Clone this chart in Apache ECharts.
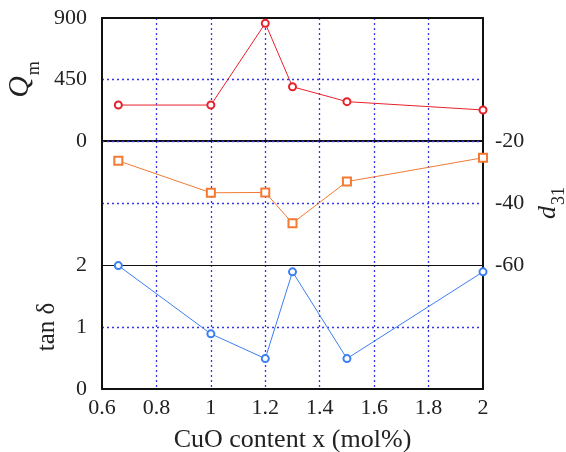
<!DOCTYPE html>
<html>
<head>
<meta charset="utf-8">
<script src="https://cdn.jsdelivr.net/npm/echarts@6/dist/echarts.min.js"></script>
<style>
  html, body { margin: 0; padding: 0; background: #fff; }
  #chart { width: 566px; height: 452px; }
</style>
</head>
<body>
<div id="chart"></div>
<script>
// CuO content (mol%)
const cuo = [0.66, 1.0, 1.2, 1.3, 1.5, 2.0];
const qm = [263, 263, 861, 397, 288, 227];
const d31 = [-26.4, -36.7, -36.6, -46.5, -33.1, -25.4];
const tanDelta = [1.99, 0.89, 0.49, 1.89, 0.49, 1.89];

const FONT = "Liberation Serif";
const black = "#111";
const dotted = () => ({ color: "#3535ea", width: 1.3, type: [2, 3] });

const chart = echarts.init(document.getElementById("chart"));

const pair = (xs, ys) => xs.map((x, i) => [x, ys[i]]);

function xAxis(gridIndex, position, opts) {
  return Object.assign({
    type: "value",
    gridIndex,
    position,
    min: 0.6,
    max: 2,
    interval: 0.2,
    axisLine: { onZero: false, lineStyle: { color: black, width: 2 } },
    axisTick: { show: false },
    axisLabel: { show: false },
    splitLine: { show: true, showMinLine: false, showMaxLine: false, lineStyle: dotted() }
  }, opts);
}

function yAxis(gridIndex, position, min, max, interval, opts) {
  return Object.assign({
    type: "value",
    gridIndex,
    position,
    min,
    max,
    interval,
    z: 4,
    axisLine: { show: true, onZero: false, lineStyle: { color: black, width: 2 } },
    axisTick: { show: false },
    axisLabel: { show: false },
    splitLine: { show: false }
  }, opts);
}

const labelStyle = (margin) => ({
  show: true,
  color: "#222",
  fontFamily: FONT,
  fontSize: 22,
  margin
});

const gridBox = { left: 102, right: 83, outerBoundsMode: "none", containLabel: false };

chart.setOption({
  animation: false,
  grid: [
    Object.assign({ top: 18, height: 123 }, gridBox),
    Object.assign({ top: 141, height: 124 }, gridBox),
    Object.assign({ top: 265, height: 124 }, gridBox)
  ],
  xAxis: [
    xAxis(0, "top", { z: 5 }),
    xAxis(1, "top", { z: 1 }),
    xAxis(1, "bottom", { z: 6, splitLine: { show: false }, axisLine: { onZero: false, lineStyle: { color: black, width: 1 } } }),
    xAxis(2, "bottom", {
      z: 6,
      axisLabel: labelStyle(8),
      name: "CuO content x (mol%)",
      nameLocation: "middle",
      nameGap: 38,
      nameTextStyle: { color: "#222", fontFamily: FONT, fontSize: 26 }
    })
  ],
  yAxis: [
    yAxis(0, "left", 0, 900, 450, {
      z: 3,
      axisLabel: labelStyle(15),
      splitLine: { show: true, showMinLine: true, showMaxLine: false, lineStyle: dotted() },
      name: "{q|Q}{s|m}",
      nameLocation: "middle",
      nameRotate: 90,
      nameGap: 50,
      nameTextStyle: {
        rich: {
          q: { fontFamily: FONT, fontStyle: "italic", fontSize: 30, color: "#222", padding: [0, 0, 14, 0] },
          s: { fontFamily: FONT, fontSize: 18, color: "#222", padding: [14, 0, 0, 1] }
        }
      }
    }),
    yAxis(0, "right", 0, 900, 450),
    yAxis(1, "left", -60, -20, 20),
    yAxis(1, "right", -60, -20, 20, {
      z: 3,
      axisLabel: labelStyle(12),
      splitLine: { show: true, showMinLine: false, showMaxLine: false, lineStyle: dotted() },
      name: "{d|d}{s|31}",
      nameLocation: "middle",
      nameRotate: 90,
      nameGap: 46,
      nameTextStyle: {
        rich: {
          d: { fontFamily: FONT, fontStyle: "italic", fontSize: 26, color: "#222", padding: [0, 0, 11, 0] },
          s: { fontFamily: FONT, fontSize: 18, color: "#222", padding: [11, 0, 0, 1] }
        }
      }
    }),
    yAxis(2, "left", 0, 2, 1, {
      z: 3,
      axisLabel: labelStyle(15),
      splitLine: { show: true, showMinLine: false, showMaxLine: false, lineStyle: dotted() },
      name: "tan δ",
      nameLocation: "middle",
      nameRotate: 90,
      nameGap: 42,
      nameTextStyle: { color: "#222", fontFamily: FONT, fontSize: 25 }
    }),
    yAxis(2, "right", 0, 2, 1)
  ],
  series: [
    {
      type: "line",
      xAxisIndex: 0,
      yAxisIndex: 0,
      data: pair(cuo, qm),
      symbol: "emptyCircle",
      symbolSize: 7,
      color: "#e8222c",
      lineStyle: { width: 1 },
      itemStyle: { borderWidth: 1.2 },
      z: 10
    },
    {
      type: "line",
      xAxisIndex: 1,
      yAxisIndex: 3,
      data: pair(cuo, d31),
      symbol: "emptyRect",
      symbolSize: 8,
      color: "#f27a32",
      lineStyle: { width: 1 },
      itemStyle: { borderWidth: 1.2 },
      z: 10
    },
    {
      type: "line",
      xAxisIndex: 3,
      yAxisIndex: 4,
      data: pair(cuo, tanDelta),
      symbol: "emptyCircle",
      symbolSize: 7,
      color: "#3b7ff2",
      lineStyle: { width: 1 },
      itemStyle: { borderWidth: 1.2 },
      z: 10
    }
  ]
});
</script>
</body>
</html>
